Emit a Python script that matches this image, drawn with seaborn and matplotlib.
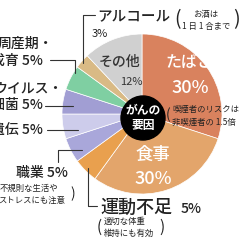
import matplotlib
matplotlib.use("Agg")
import matplotlib.pyplot as plt
import seaborn as sns

sns.set_theme(style="white")
plt.rcParams['font.family'] = ['Noto Sans CJK JP', 'DejaVu Sans']

# data (clockwise from top)
categories = ["たばこ", "食事", "運動不足", "職業", "遺伝", "ウイルス・細菌", "周産期・成育", "アルコール", "その他"]
values = [30, 30, 5, 5, 5, 5, 5, 3, 12]
colors = ["#D9825E", "#E3A56B", "#E9A04E", "#A9A7DA", "#CDCCEB", "#A19ED3", "#7FCFA2", "#D9BA85", "#D0D0D0"]

fig = plt.figure(figsize=(2.4, 2.4), dpi=100)
ax = fig.add_axes([0, 0, 1, 1])
ax.pie(values, colors=colors, center=(142, 114), radius=80, startangle=-90,
       counterclock=True, wedgeprops=dict(edgecolor="white", linewidth=0.5))
ax.set_xlim(0, 240)
ax.set_ylim(240, 0)
ax.set_aspect("auto")
ax.axis("off")

# center circle
ax.add_patch(plt.Circle((143, 118), 22, color="black", zorder=5))
ax.text(143, 110, "がんの", color="white", fontsize=8.5, fontweight="bold", ha="center", va="center", zorder=6)
ax.text(143, 125, "要因", color="white", fontsize=8.5, fontweight="bold", ha="center", va="center", zorder=6)

dark = "#222222"
lc = "#333333"
lw = 0.8
fw = "medium"

# inside labels
ax.text(189, 62, "たばこ", color="white", fontsize=11.5, fontweight=fw, ha="center", va="center", zorder=7)
ax.text(190, 88, "30%", color="white", fontsize=13, fontweight=fw, ha="center", va="center", zorder=7)
ax.text(153, 155, "食事", color="white", fontsize=12.5, fontweight=fw, ha="center", va="center", zorder=7)
ax.text(153, 179, "30%", color="white", fontsize=13, fontweight=fw, ha="center", va="center", zorder=7)
ax.text(119, 62, "その他", color="#333333", fontsize=10, fontweight=fw, ha="center", va="center")
ax.text(131, 82, "12%", color="#333333", fontsize=8, ha="center", va="center")
ax.text(168, 115, "(", color=dark, fontsize=10, ha="center", va="center")
ax.text(172, 109, "喫煙者のリスクは", color=dark, fontsize=6, ha="left", va="center")
ax.text(172, 122, "非喫煙者の 1.5倍", color=dark, fontsize=6, ha="left", va="center")

# alcohol
ax.plot([95, 83, 83], [15, 15, 63], color=lc, lw=lw)
ax.text(97, 16, "アルコール", color=dark, fontsize=10.5, fontweight=fw, ha="left", va="center")
ax.text(100, 34, "3%", color=dark, fontsize=8, ha="center", va="center")
ax.text(178, 20, "(", color=dark, fontsize=14, ha="center", va="center")
ax.text(236, 20, ")", color=dark, fontsize=14, ha="center", va="center")
ax.text(206, 14, "お酒は", color=dark, fontsize=6, ha="center", va="center")
ax.text(206, 26, "1 日 1 合まで", color=dark, fontsize=6, ha="center", va="center")

# perinatal
ax.plot([50, 75, 75], [60, 60, 73], color=lc, lw=lw)
ax.text(53, 44, "周産期・", color=dark, fontsize=10, fontweight=fw, ha="right", va="center")
ax.text(43, 61, "成育 5%", color=dark, fontsize=10, fontweight=fw, ha="right", va="center")

# virus
ax.plot([45, 73], [106, 106], color=lc, lw=lw)
ax.text(63, 88, "ウイルス・", color=dark, fontsize=10, fontweight=fw, ha="right", va="center")
ax.text(43, 105, "細菌 5%", color=dark, fontsize=10, fontweight=fw, ha="right", va="center")

# heredity
ax.plot([47, 78], [130, 130], color=lc, lw=lw)
ax.text(43, 130, "遺伝 5%", color=dark, fontsize=10, fontweight=fw, ha="right", va="center")

# occupation
ax.plot([58, 58, 82], [162, 150, 150], color=lc, lw=lw)
ax.text(68, 173, "職業 5%", color=dark, fontsize=10, fontweight=fw, ha="right", va="center")
ax.text(58, 188, "不規則な生活や", color=dark, fontsize=6, ha="right", va="center")
ax.text(65, 200, "ストレスにも注意", color=dark, fontsize=6, ha="right", va="center")
ax.text(73, 194, ")", color=dark, fontsize=10, ha="center", va="center")

# exercise
ax.plot([88, 88, 97], [168, 206, 206], color=lc, lw=lw)
ax.text(100, 213, "運動不足", color=dark, fontsize=13, fontweight=fw, ha="left", va="baseline")
ax.text(181, 213, "5%", color=dark, fontsize=10, fontweight=fw, ha="left", va="baseline")
ax.text(99, 227, "(", color=dark, fontsize=11, ha="center", va="center")
ax.text(104, 221, "適切な体重", color=dark, fontsize=6, ha="left", va="center")
ax.text(104, 233, "維持にも有効", color=dark, fontsize=6, ha="left", va="center")
ax.text(162, 227, ")", color=dark, fontsize=11, ha="center", va="center")

fig.savefig("out.png", dpi=100, facecolor="white")
